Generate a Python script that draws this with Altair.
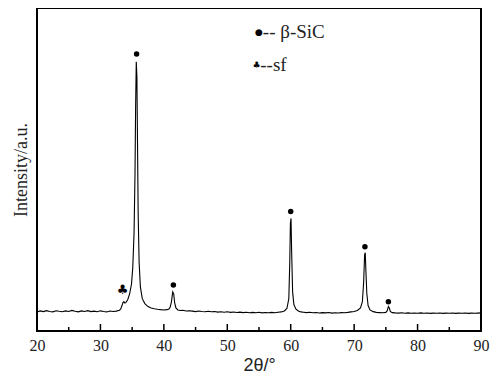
import altair as alt
import pandas as pd

two_theta = [
    20.0, 20.5, 21.0, 21.5, 22.0, 22.5, 23.0, 23.5, 24.0, 24.5,
    25.0, 25.5, 26.0, 26.5, 27.0, 27.5, 28.0, 28.5, 29.0, 29.5,
    30.0, 30.5, 31.0, 31.5, 32.0, 32.5, 33.0, 33.2, 33.4, 33.55,
    33.7, 33.85, 34.0, 34.3, 34.6, 34.9, 35.1, 35.3, 35.45, 35.55,
    35.65, 35.75, 35.85, 35.95, 36.1, 36.3, 36.6, 37.0, 37.5, 38.0,
    38.5, 39.0, 39.5, 40.0, 40.5, 40.8, 41.0, 41.2, 41.4, 41.55,
    41.7, 41.9, 42.2, 42.6, 43.0, 43.5, 44.0, 44.5, 45.0, 45.5,
    46.0, 46.5, 47.0, 47.5, 48.0, 48.5, 49.0, 49.5, 50.0, 50.5,
    51.0, 51.5, 52.0, 52.5, 53.0, 53.5, 54.0, 54.5, 55.0, 55.5,
    56.0, 56.5, 57.0, 57.5, 58.0, 58.5, 59.0, 59.4, 59.7, 59.85,
    59.95, 60.05, 60.15, 60.3, 60.5, 60.8, 61.2, 61.6, 62.0, 62.5,
    63.0, 63.5, 64.0, 64.5, 65.0, 65.5, 66.0, 66.5, 67.0, 67.5,
    68.0, 68.5, 69.0, 69.5, 70.0, 70.5, 71.0, 71.3, 71.5, 71.65,
    71.75, 71.85, 72.0, 72.2, 72.5, 73.0, 73.5, 74.0, 74.5, 75.0,
    75.2, 75.4, 75.55, 75.7, 76.0, 76.5, 77.0, 77.5, 78.0, 78.5,
    79.0, 79.5, 80.0, 80.5, 81.0, 81.5, 82.0, 82.5, 83.0, 83.5,
    84.0, 84.5, 85.0, 85.5, 86.0, 86.5, 87.0, 87.5, 88.0, 88.5,
    89.0, 89.5, 90.0,
]
intensity = [
    195, 205, 198, 208, 200, 196, 207, 201, 197, 205,
    199, 210, 202, 196, 205, 200, 208, 198, 203, 197,
    206, 200, 195, 204, 199, 203, 212, 225, 260, 290,
    300, 285, 290, 320, 380, 480, 650, 1000, 1600, 2300,
    2750, 2600, 1900, 1200, 700, 450, 330, 280, 250, 235,
    228, 222, 218, 215, 218, 225, 245, 300, 400, 380,
    290, 235, 215, 210, 212, 205, 207, 203, 198, 204,
    200, 197, 202, 196, 199, 193, 197, 192, 196, 190,
    194, 189, 193, 188, 192, 186, 190, 187, 191, 185,
    189, 186, 190, 187, 192, 195, 205, 230, 330, 700,
    1100, 1150, 800, 400, 270, 225, 205, 195, 192, 188,
    191, 186, 189, 184, 188, 185, 189, 183, 187, 184,
    188, 186, 190, 195, 200, 210, 235, 300, 500, 780,
    800, 620, 380, 260, 215, 198, 190, 188, 186, 190,
    205, 250, 235, 200, 188, 185, 183, 186, 182, 185,
    181, 184, 182, 185, 181, 184, 180, 183, 181, 184,
    180, 183, 181, 184, 180, 183, 181, 184, 180, 183,
    181, 183, 185,
]

# peak markers (beta-SiC) and stacking fault marker
sic_x = [35.7, 41.5, 60.0, 71.7, 75.4]
sic_y = [2830, 470, 1220, 860, 300]
sf_x = [33.5]
sf_y = [420]

# legend entries
legend_sym_x = [55.0, 54.6]
legend_sym_y = [3050, 2720]
legend_sym = ["●", "♣"]
legend_txt_x = [55.6, 55.2]
legend_txt = ["-- β-SiC", "--sf"]

major_ticks = [20, 30, 40, 50, 60, 70, 80, 90]
minor_ticks = [25, 35, 45, 55, 65, 75, 85]

W, H = 444, 323
SERIF = "Liberation Serif"

xs = alt.Scale(domain=[20, 90], nice=False, zero=False)
ys = alt.Scale(domain=[0, 3300], nice=False, zero=False)

curve_df = pd.DataFrame({"x": two_theta, "y": intensity})
line = alt.Chart(curve_df).mark_line(color="black", strokeWidth=1.1).encode(
    x=alt.X("x:Q", scale=xs,
            axis=alt.Axis(values=major_ticks, title="2θ/°", ticks=False, domain=False,
                          grid=False, labelFont=SERIF, labelFontSize=16,
                          labelColor="#222", labelPadding=6, labelFlush=False,
                          titleFont="Liberation Sans", titleFontSize=18,
                          titleFontWeight="normal", titleColor="#222", titlePadding=3)),
    y=alt.Y("y:Q", scale=ys,
            axis=alt.Axis(title="Intensity/a.u.", ticks=False, labels=False, domain=False,
                          grid=False, titleFont=SERIF, titleFontSize=18,
                          titleFontWeight="normal", titleColor="#222", titlePadding=7)),
)

sic_df = pd.DataFrame({"x": sic_x, "y": sic_y})
dots = alt.Chart(sic_df).mark_point(filled=True, color="black", size=30, opacity=1).encode(
    x=alt.X("x:Q", scale=xs), y=alt.Y("y:Q", scale=ys))

sf_df = pd.DataFrame({"x": sf_x, "y": sf_y, "t": ["♣"]})
clubs = alt.Chart(sf_df).mark_text(font="DejaVu Sans", fontSize=13, color="black").encode(
    x=alt.X("x:Q", scale=xs), y=alt.Y("y:Q", scale=ys), text="t:N")

leg_sym_df = pd.DataFrame({"x": legend_sym_x, "y": legend_sym_y, "t": legend_sym})
leg_sym = alt.Chart(leg_sym_df).mark_text(font="DejaVu Sans", fontSize=9, color="black").encode(
    x=alt.X("x:Q", scale=xs), y=alt.Y("y:Q", scale=ys), text="t:N")

leg_txt_df = pd.DataFrame({"x": legend_txt_x, "y": legend_sym_y, "t": legend_txt})
leg_txt = alt.Chart(leg_txt_df).mark_text(font=SERIF, fontSize=19, color="#222",
                                          align="left", baseline="middle").encode(
    x=alt.X("x:Q", scale=xs), y=alt.Y("y:Q", scale=ys), text="t:N")

major_df = pd.DataFrame({"x": major_ticks})
major = alt.Chart(major_df).mark_rule(color="black", strokeWidth=1.5).encode(
    x=alt.X("x:Q", scale=xs), y=alt.value(H - 7), y2=alt.value(H))
minor_df = pd.DataFrame({"x": minor_ticks})
minor = alt.Chart(minor_df).mark_rule(color="black", strokeWidth=1.5).encode(
    x=alt.X("x:Q", scale=xs), y=alt.value(H - 4), y2=alt.value(H))

chart = alt.layer(line, dots, clubs, leg_sym, leg_txt, major, minor).properties(
    width=W, height=H,
    autosize=alt.AutoSizeParams(type="none"),
    padding={"left": 29, "top": 0, "right": 10, "bottom": 45},
).configure_view(stroke="black", strokeWidth=2)

chart.save("out.html", embed_options={"renderer": "svg", "actions": False})
